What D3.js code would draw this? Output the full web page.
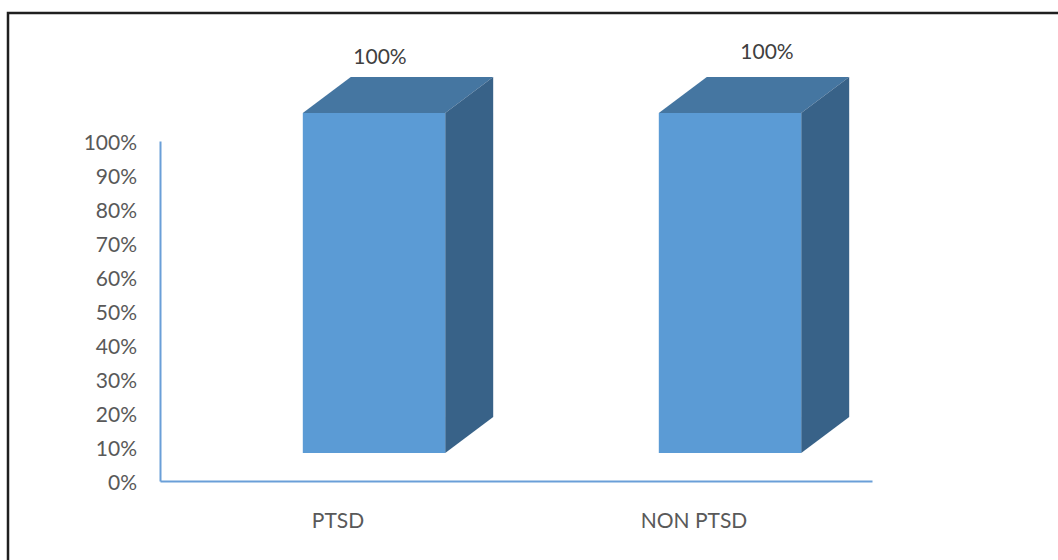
<!DOCTYPE html>
<html>
<head>
<meta charset="utf-8">
<script src="https://cdn.jsdelivr.net/npm/d3@7"></script>
<style>
  body { margin: 0; background: #fff; }
  svg text { font-family: Lato, "Open Sans", sans-serif; }
</style>
</head>
<body>
<svg id="chart" width="1058" height="560"></svg>
<script>
// data
var categories = ["PTSD", "NON PTSD"];
var values = [1.0, 1.0];
var valueLabels = ["100%", "100%"];
var yTicks = [0, 0.1, 0.2, 0.3, 0.4, 0.5, 0.6, 0.7, 0.8, 0.9, 1.0];

// layout
var plot = {left: 160, right: 872, top: 141, bottom: 481};
var depth = {dx: 48, dy: -36};      // 3d depth of each bar
var shift = {dx: 36, dy: -28};      // front face offset from the floor edge
var barFrac = 0.4;
var labelNudge = [[6, 0], [37, -5]]; // hand placed data labels

var svg = d3.select("#chart");

// frame
svg.append("rect")
    .attr("x", 8).attr("y", 13)
    .attr("width", 1080).attr("height", 580)
    .attr("fill", "none")
    .attr("stroke", "#1f1f1f")
    .attr("stroke-width", 2.5);

var x = d3.scaleBand()
    .domain(categories)
    .range([plot.left, plot.right])
    .padding(0);

var y = d3.scaleLinear()
    .domain([0, 1])
    .range([plot.bottom, plot.top]);

// y axis
var yAxis = svg.append("g")
    .attr("transform", "translate(" + plot.left + ",0)")
    .call(d3.axisLeft(y).tickValues(yTicks).tickFormat(d3.format(".0%"))
        .tickSize(0).tickPadding(23));
yAxis.attr("font-family", null);
yAxis.select(".domain").attr("stroke", "#6a9fd8").attr("stroke-width", 2);
yAxis.selectAll("text")
    .attr("dy", "0.42em")
    .attr("fill", "#595959")
    .style("font-size", "21px");

// x axis
var xAxis = svg.append("g")
    .attr("transform", "translate(0," + plot.bottom + ")")
    .call(d3.axisBottom(x).tickSize(0).tickPadding(32));
xAxis.attr("font-family", null);
xAxis.select(".domain").attr("stroke", "#6a9fd8").attr("stroke-width", 2);
xAxis.selectAll("text")
    .attr("fill", "#595959")
    .style("font-size", "21px");

// bars
var bw = x.bandwidth() * barFrac;
var bars = svg.append("g").selectAll("g")
    .data(categories)
    .enter().append("g");

function geom(d, i){
    var cx = x(d) + x.bandwidth() / 2 + shift.dx;
    return {
        x0: cx - bw / 2,
        x1: cx + bw / 2,
        yt: y(values[i]) + shift.dy,
        yb: y(0) + shift.dy
    };
}

function pts(list){
    return list.map(function(p){ return p.join(","); }).join(" ");
}

bars.append("polygon")
    .attr("fill", "#4576a1")
    .attr("points", function(d, i){
        var g = geom(d, i);
        return pts([[g.x0, g.yt], [g.x0 + depth.dx, g.yt + depth.dy],
                    [g.x1 + depth.dx, g.yt + depth.dy], [g.x1, g.yt]]);
    });

bars.append("polygon")
    .attr("fill", "#386288")
    .attr("points", function(d, i){
        var g = geom(d, i);
        return pts([[g.x1, g.yt], [g.x1 + depth.dx, g.yt + depth.dy],
                    [g.x1 + depth.dx, g.yb + depth.dy], [g.x1, g.yb]]);
    });

bars.append("rect")
    .attr("fill", "#5b9bd5")
    .attr("x", function(d, i){ return geom(d, i).x0; })
    .attr("y", function(d, i){ return geom(d, i).yt; })
    .attr("width", bw)
    .attr("height", function(d, i){ var g = geom(d, i); return g.yb - g.yt; });

// data labels
bars.append("text")
    .attr("text-anchor", "middle")
    .attr("fill", "#404040")
    .style("font-size", "21px")
    .attr("x", function(d, i){ var g = geom(d, i); return (g.x0 + g.x1) / 2 + labelNudge[i][0]; })
    .attr("y", function(d, i){ var g = geom(d, i); return g.yt + depth.dy - 13 + labelNudge[i][1]; })
    .text(function(d, i){ return valueLabels[i]; });
</script>
</body>
</html>
